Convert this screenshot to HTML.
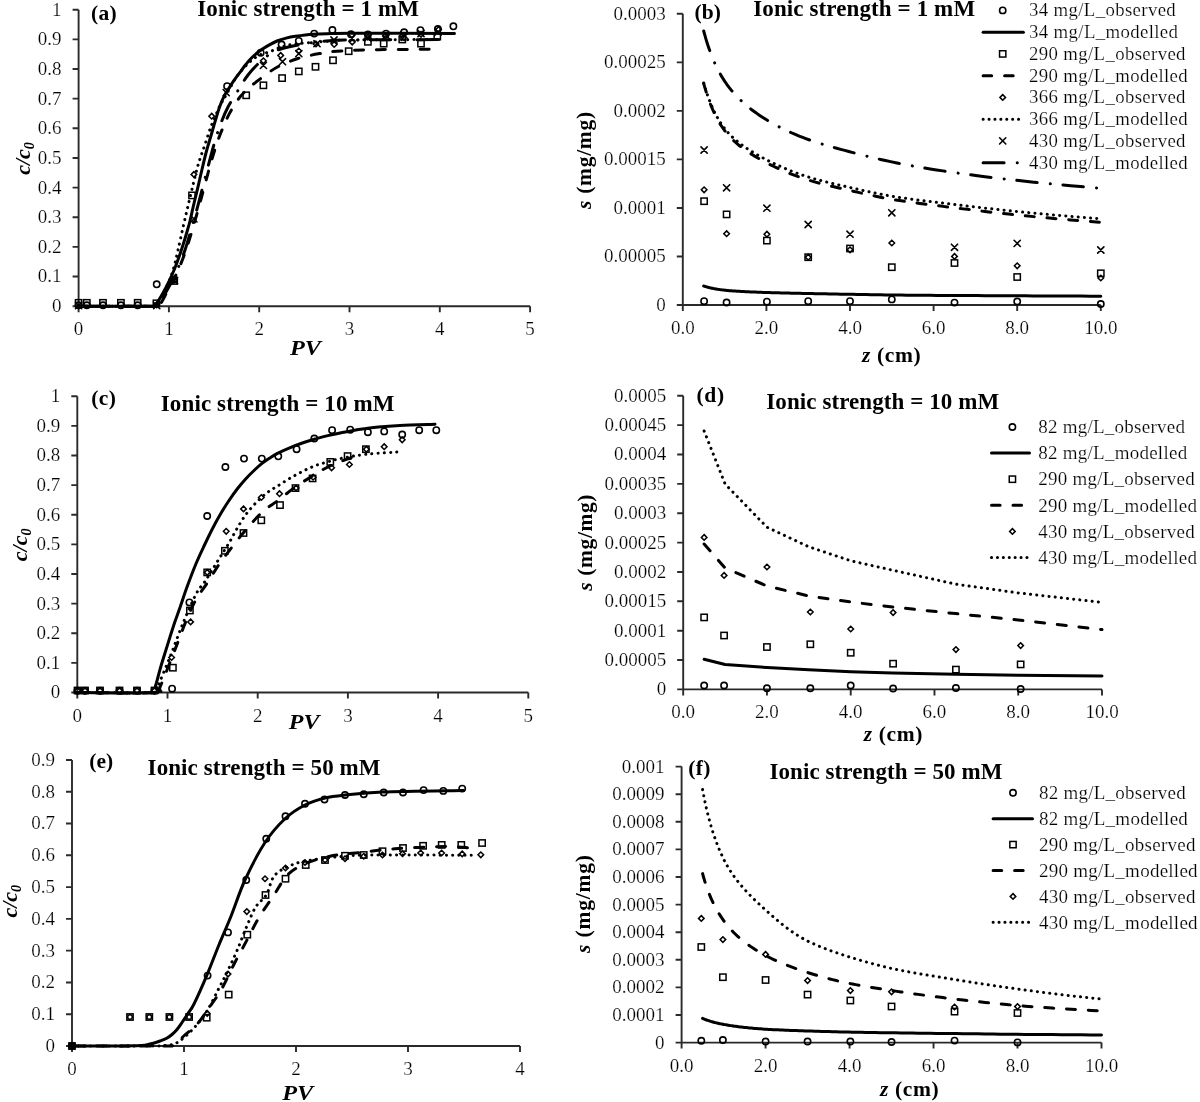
<!DOCTYPE html>
<html><head><meta charset="utf-8"><style>
html,body{margin:0;padding:0;background:#fff;}
svg{display:block;will-change:transform;}
text{font-family:"Liberation Serif", serif;fill:#000;}
text.r{stroke:#fff;stroke-width:0.2px;}
</style></head><body>
<svg width="1200" height="1102" viewBox="0 0 1200 1102">
<rect width="1200" height="1102" fill="#fff"/>
<path d="M78.6 9.7V312.2M72.6 306.2H530.1M72.6 306.2H78.6M72.6 276.55H78.6M72.6 246.9H78.6M72.6 217.25H78.6M72.6 187.6H78.6M72.6 157.95H78.6M72.6 128.3H78.6M72.6 98.65H78.6M72.6 69H78.6M72.6 39.35H78.6M72.6 9.7H78.6M78.6 306.2V312.2M168.9 306.2V312.2M259.2 306.2V312.2M349.5 306.2V312.2M439.8 306.2V312.2M530.1 306.2V312.2" stroke="#2a2a2a" stroke-width="1.9" fill="none"/>
<text x="61.6" y="312.1" font-size="19" class="r" text-anchor="end">0</text>
<text x="61.6" y="282.45" font-size="19" class="r" text-anchor="end">0.1</text>
<text x="61.6" y="252.8" font-size="19" class="r" text-anchor="end">0.2</text>
<text x="61.6" y="223.15" font-size="19" class="r" text-anchor="end">0.3</text>
<text x="61.6" y="193.5" font-size="19" class="r" text-anchor="end">0.4</text>
<text x="61.6" y="163.85" font-size="19" class="r" text-anchor="end">0.5</text>
<text x="61.6" y="134.2" font-size="19" class="r" text-anchor="end">0.6</text>
<text x="61.6" y="104.55" font-size="19" class="r" text-anchor="end">0.7</text>
<text x="61.6" y="74.9" font-size="19" class="r" text-anchor="end">0.8</text>
<text x="61.6" y="45.25" font-size="19" class="r" text-anchor="end">0.9</text>
<text x="61.6" y="15.6" font-size="19" class="r" text-anchor="end">1</text>
<text x="78.6" y="335.2" font-size="19" class="r" text-anchor="middle">0</text>
<text x="168.9" y="335.2" font-size="19" class="r" text-anchor="middle">1</text>
<text x="259.2" y="335.2" font-size="19" class="r" text-anchor="middle">2</text>
<text x="349.5" y="335.2" font-size="19" class="r" text-anchor="middle">3</text>
<text x="439.8" y="335.2" font-size="19" class="r" text-anchor="middle">4</text>
<text x="530.1" y="335.2" font-size="19" class="r" text-anchor="middle">5</text>
<text x="91" y="19.8" font-size="21.5" font-weight="bold" textLength="25.6" lengthAdjust="spacing">(a)</text>
<text x="197.3" y="16.2" font-size="23" font-weight="bold" textLength="221.6" lengthAdjust="spacing">Ionic strength = 1 mM</text>
<text x="290" y="355.2" font-size="22" font-weight="bold" font-style="italic" textLength="31" lengthAdjust="spacingAndGlyphs">PV</text>
<text x="30.3" y="174.8" font-size="22" font-weight="bold" font-style="italic" transform="rotate(-90 30.3 174.8)"><tspan>c/c</tspan><tspan font-size="14.1" dy="4">0</tspan></text>
<path d="M78.6 306.2C90.83 306.2 138.77 306.32 152 306.2C165.23 306.08 156.5 306.03 158 305.5C159.5 304.97 159.5 305.25 161 303C162.5 300.75 165 295.67 167 292C169 288.33 170.92 285.17 173 281C175.08 276.83 177.33 272.17 179.5 267C181.67 261.83 183.92 256 186 250C188.08 244 190 237.67 192 231C194 224.33 196 217.17 198 210C200 202.83 202 195.33 204 188C206 180.67 208 173 210 166C212 159 214.05 151.88 216 146C217.95 140.12 219.38 136.27 221.7 130.7C224.02 125.13 226.85 118.22 229.9 112.6C232.95 106.98 236.82 101.1 240 97C243.18 92.9 245.85 90.85 249 88C252.15 85.15 254.23 83.37 258.9 79.9C263.57 76.43 270.5 70.77 277 67.2C283.5 63.63 290.78 60.77 297.9 58.5C305.02 56.23 312.43 54.87 319.7 53.6C326.97 52.33 330.87 51.57 341.5 50.9C352.13 50.23 368.08 49.87 383.5 49.6C398.92 49.33 425.58 49.35 434 49.3" stroke="#000" stroke-width="3.0" fill="none" stroke-linecap="round" stroke-linejoin="round" stroke-dasharray="9 12.8"/>
<path d="M78.6 306.2C90.67 306.2 137.93 306.32 151 306.2C164.07 306.08 155.5 306.03 157 305.5C158.5 304.97 158.5 305.25 160 303C161.5 300.75 164 295.67 166 292C168 288.33 169.92 285.17 172 281C174.08 276.83 176.33 272.17 178.5 267C180.67 261.83 182.92 256.17 185 250C187.08 243.83 189 236.83 191 230C193 223.17 195 216.33 197 209C199 201.67 201 193.67 203 186C205 178.33 207 170.5 209 163C211 155.5 213 147.67 215 141C217 134.33 218.83 128.67 221 123C223.17 117.33 225.02 112.67 228 107C230.98 101.33 235.57 94.33 238.9 89C242.23 83.67 244.67 79.33 248 75C251.33 70.67 255.23 66.5 258.9 63C262.57 59.5 266.37 56.33 270 54C273.63 51.67 275.6 50.58 280.7 49C285.8 47.42 293.05 45.83 300.6 44.5C308.15 43.17 317.83 41.75 326 41C334.17 40.25 330.6 40.23 349.6 40C368.6 39.77 424.93 39.67 440 39.6" stroke="#000" stroke-width="3.0" fill="none" stroke-linecap="round" stroke-linejoin="round" stroke-dasharray="20.5 13.2 0.1 12.6"/>
<path d="M78.6 306.2C90.67 306.2 138.27 306.32 151 306.2C163.73 306.08 153.67 306.37 155 305.5C156.33 304.63 157.5 303.25 159 301C160.5 298.75 162.17 295.67 164 292C165.83 288.33 168.3 283.33 170 279C171.7 274.67 172.87 270.83 174.2 266C175.53 261.17 176.52 256.5 178 250C179.48 243.5 181.4 234.5 183.1 227C184.8 219.5 186.47 212.33 188.2 205C189.93 197.67 191.95 189.33 193.5 183C195.05 176.67 196.27 171.47 197.5 167C198.73 162.53 199.65 159.97 200.9 156.2C202.15 152.43 203.33 149.32 205 144.4C206.67 139.48 209.38 130.78 210.9 126.7C212.42 122.62 212.9 122.77 214.1 119.9C215.3 117.03 216.9 112.3 218.1 109.5C219.3 106.7 220.32 104.92 221.3 103.1C222.28 101.28 222.55 101.12 224 98.6C225.45 96.08 227.82 91.77 230 88C232.18 84.23 234.1 80.07 237.1 76C240.1 71.93 244.37 67.03 248 63.6C251.63 60.17 255.27 57.37 258.9 55.4C262.53 53.43 266.17 53.17 269.8 51.8C273.43 50.43 277.07 48.42 280.7 47.2C284.33 45.98 287.07 45.25 291.6 44.5C296.13 43.75 301.25 43.3 307.9 42.7C314.55 42.1 324.55 41.35 331.5 40.9C338.45 40.45 331.52 40.23 349.6 40C367.68 39.77 424.93 39.58 440 39.5" stroke="#000" stroke-width="3.0" fill="none" stroke-linecap="round" stroke-linejoin="round" stroke-dasharray="0.1 6.1"/>
<path d="M78.6 306.2C90.5 306.2 137.52 306.23 150 306.2C162.48 306.17 152.42 306.45 153.5 306C154.58 305.55 154.92 305.67 156.5 303.5C158.08 301.33 160.92 296.67 163 293C165.08 289.33 167.08 285.5 169 281.5C170.92 277.5 172.83 273.08 174.5 269C176.17 264.92 177.58 261 179 257C180.42 253 181.75 248.92 183 245C184.25 241.08 185.33 237.5 186.5 233.5C187.67 229.5 188.83 225.67 190 221C191.17 216.33 192.22 210.98 193.5 205.5C194.78 200.02 196.25 194.27 197.7 188.1C199.15 181.93 200.73 174.68 202.2 168.5C203.67 162.32 205.1 156.25 206.5 151C207.9 145.75 209.18 141.88 210.6 137C212.02 132.12 213.52 126.67 215 121.7C216.48 116.73 218 111.43 219.5 107.2C221 102.97 222.33 99.63 224 96.3C225.67 92.97 227.68 90.07 229.5 87.2C231.32 84.33 233.08 81.67 234.9 79.1C236.72 76.53 238.58 74.23 240.4 71.8C242.22 69.37 244.03 66.72 245.8 64.5C247.57 62.28 248.82 60.67 251 58.5C253.18 56.33 256.07 53.65 258.9 51.5C261.73 49.35 264.98 47.35 268 45.6C271.02 43.85 273.98 42.25 277 41C280.02 39.75 283.07 38.88 286.1 38.1C289.13 37.32 290.67 36.95 295.2 36.3C299.73 35.65 307.25 34.65 313.3 34.2C319.35 33.75 325.45 33.75 331.5 33.6C337.55 33.45 329.12 33.33 349.6 33.3C370.08 33.27 436.93 33.38 454.4 33.4" stroke="#000" stroke-width="3.0" fill="none" stroke-linecap="round" stroke-linejoin="round" />
<rect x="75.45" y="299.65" width="6.3" height="6.3" fill="none" stroke="#000" stroke-width="1.5"/>
<rect x="83.65" y="299.65" width="6.3" height="6.3" fill="none" stroke="#000" stroke-width="1.5"/>
<rect x="99.85" y="299.65" width="6.3" height="6.3" fill="none" stroke="#000" stroke-width="1.5"/>
<rect x="117.75" y="299.65" width="6.3" height="6.3" fill="none" stroke="#000" stroke-width="1.5"/>
<rect x="134.55" y="299.65" width="6.3" height="6.3" fill="none" stroke="#000" stroke-width="1.5"/>
<rect x="153.25" y="300.15" width="6.3" height="6.3" fill="none" stroke="#000" stroke-width="1.5"/>
<rect x="171.05" y="277.85" width="6.3" height="6.3" fill="none" stroke="#000" stroke-width="1.5"/>
<rect x="188.85" y="192.25" width="6.3" height="6.3" fill="none" stroke="#000" stroke-width="1.5"/>
<rect x="243.05" y="92.15" width="6.3" height="6.3" fill="none" stroke="#000" stroke-width="1.5"/>
<rect x="260.25" y="82.15" width="6.3" height="6.3" fill="none" stroke="#000" stroke-width="1.5"/>
<rect x="278.95" y="74.95" width="6.3" height="6.3" fill="none" stroke="#000" stroke-width="1.5"/>
<rect x="295.65" y="68.25" width="6.3" height="6.3" fill="none" stroke="#000" stroke-width="1.5"/>
<rect x="312.35" y="63.65" width="6.3" height="6.3" fill="none" stroke="#000" stroke-width="1.5"/>
<rect x="329.85" y="57.15" width="6.3" height="6.3" fill="none" stroke="#000" stroke-width="1.5"/>
<rect x="345.55" y="48.05" width="6.3" height="6.3" fill="none" stroke="#000" stroke-width="1.5"/>
<rect x="364.75" y="38.65" width="6.3" height="6.3" fill="none" stroke="#000" stroke-width="1.5"/>
<rect x="380.55" y="40.45" width="6.3" height="6.3" fill="none" stroke="#000" stroke-width="1.5"/>
<rect x="399.15" y="36.35" width="6.3" height="6.3" fill="none" stroke="#000" stroke-width="1.5"/>
<rect x="417.85" y="40.45" width="6.3" height="6.3" fill="none" stroke="#000" stroke-width="1.5"/>
<rect x="434.15" y="33.45" width="6.3" height="6.3" fill="none" stroke="#000" stroke-width="1.5"/>
<path d="M156.7 302.2L159.5 305L156.7 307.8L153.9 305Z" fill="none" stroke="#000" stroke-width="1.5"/>
<path d="M174.2 277.2L177 280L174.2 282.8L171.4 280Z" fill="none" stroke="#000" stroke-width="1.5"/>
<path d="M193.9 171.6L196.7 174.4L193.9 177.2L191.1 174.4Z" fill="none" stroke="#000" stroke-width="1.5"/>
<path d="M211.7 113.4L214.5 116.2L211.7 119L208.9 116.2Z" fill="none" stroke="#000" stroke-width="1.5"/>
<path d="M263.4 58L266.2 60.8L263.4 63.6L260.6 60.8Z" fill="none" stroke="#000" stroke-width="1.5"/>
<path d="M280.7 52.6L283.5 55.4L280.7 58.2L277.9 55.4Z" fill="none" stroke="#000" stroke-width="1.5"/>
<path d="M298.8 48.2L301.6 51L298.8 53.8L296 51Z" fill="none" stroke="#000" stroke-width="1.5"/>
<path d="M316 41.2L318.8 44L316 46.8L313.2 44Z" fill="none" stroke="#000" stroke-width="1.5"/>
<path d="M334.2 41.7L337 44.5L334.2 47.3L331.4 44.5Z" fill="none" stroke="#000" stroke-width="1.5"/>
<path d="M352.2 39.3L355 42.1L352.2 44.9L349.4 42.1Z" fill="none" stroke="#000" stroke-width="1.5"/>
<path d="M367.9 34.4L370.7 37.2L367.9 40L365.1 37.2Z" fill="none" stroke="#000" stroke-width="1.5"/>
<path d="M385.4 33.2L388.2 36L385.4 38.8L382.6 36Z" fill="none" stroke="#000" stroke-width="1.5"/>
<path d="M402.3 33.2L405.1 36L402.3 38.8L399.5 36Z" fill="none" stroke="#000" stroke-width="1.5"/>
<path d="M421 31.5L423.8 34.3L421 37.1L418.2 34.3Z" fill="none" stroke="#000" stroke-width="1.5"/>
<path d="M438.5 26.8L441.3 29.6L438.5 32.4L435.7 29.6Z" fill="none" stroke="#000" stroke-width="1.5"/>
<circle cx="78.6" cy="305.3" r="3.15" fill="none" stroke="#000" stroke-width="1.6"/>
<circle cx="86.8" cy="305.3" r="3.15" fill="none" stroke="#000" stroke-width="1.6"/>
<circle cx="103" cy="305.3" r="3.15" fill="none" stroke="#000" stroke-width="1.6"/>
<circle cx="120.9" cy="305.3" r="3.15" fill="none" stroke="#000" stroke-width="1.6"/>
<circle cx="137.7" cy="305.3" r="3.15" fill="none" stroke="#000" stroke-width="1.6"/>
<circle cx="156.7" cy="284.3" r="3.15" fill="none" stroke="#000" stroke-width="1.6"/>
<circle cx="174.2" cy="279.5" r="3.15" fill="none" stroke="#000" stroke-width="1.6"/>
<circle cx="227.1" cy="86.2" r="3.15" fill="none" stroke="#000" stroke-width="1.6"/>
<circle cx="260.7" cy="52.7" r="3.15" fill="none" stroke="#000" stroke-width="1.6"/>
<circle cx="281.6" cy="44.5" r="3.15" fill="none" stroke="#000" stroke-width="1.6"/>
<circle cx="298.8" cy="40.9" r="3.15" fill="none" stroke="#000" stroke-width="1.6"/>
<circle cx="314.2" cy="33.6" r="3.15" fill="none" stroke="#000" stroke-width="1.6"/>
<circle cx="332.4" cy="30" r="3.15" fill="none" stroke="#000" stroke-width="1.6"/>
<circle cx="351" cy="34.3" r="3.15" fill="none" stroke="#000" stroke-width="1.6"/>
<circle cx="367.9" cy="34.5" r="3.15" fill="none" stroke="#000" stroke-width="1.6"/>
<circle cx="386" cy="33.7" r="3.15" fill="none" stroke="#000" stroke-width="1.6"/>
<circle cx="404.1" cy="32.3" r="3.15" fill="none" stroke="#000" stroke-width="1.6"/>
<circle cx="420.4" cy="30.2" r="3.15" fill="none" stroke="#000" stroke-width="1.6"/>
<circle cx="437.9" cy="29" r="3.15" fill="none" stroke="#000" stroke-width="1.6"/>
<circle cx="453.4" cy="26.3" r="3.15" fill="none" stroke="#000" stroke-width="1.6"/>
<path d="M75.5 302.4L81.7 308.6M81.7 302.4L75.5 308.6" stroke="#000" stroke-width="1.6" stroke-linecap="round" fill="none"/>
<path d="M153.6 302.4L159.8 308.6M159.8 302.4L153.6 308.6" stroke="#000" stroke-width="1.6" stroke-linecap="round" fill="none"/>
<path d="M171.4 277.4L177.6 283.6M177.6 277.4L171.4 283.6" stroke="#000" stroke-width="1.6" stroke-linecap="round" fill="none"/>
<path d="M190.8 215.8L197 222M197 215.8L190.8 222" stroke="#000" stroke-width="1.6" stroke-linecap="round" fill="none"/>
<path d="M223.1 89.5L229.3 95.7M229.3 89.5L223.1 95.7" stroke="#000" stroke-width="1.6" stroke-linecap="round" fill="none"/>
<path d="M260.3 62.3L266.5 68.5M266.5 62.3L260.3 68.5" stroke="#000" stroke-width="1.6" stroke-linecap="round" fill="none"/>
<path d="M279.4 58.6L285.6 64.8M285.6 58.6L279.4 64.8" stroke="#000" stroke-width="1.6" stroke-linecap="round" fill="none"/>
<path d="M295.7 50.5L301.9 56.7M301.9 50.5L295.7 56.7" stroke="#000" stroke-width="1.6" stroke-linecap="round" fill="none"/>
<path d="M313.9 40.5L320.1 46.7M320.1 40.5L313.9 46.7" stroke="#000" stroke-width="1.6" stroke-linecap="round" fill="none"/>
<path d="M330.9 36.9L337.1 43.1M337.1 36.9L330.9 43.1" stroke="#000" stroke-width="1.6" stroke-linecap="round" fill="none"/>
<path d="M348.9 34.9L355.1 41.1M355.1 34.9L348.9 41.1" stroke="#000" stroke-width="1.6" stroke-linecap="round" fill="none"/>
<path d="M364.8 34.7L371 40.9M371 34.7L364.8 40.9" stroke="#000" stroke-width="1.6" stroke-linecap="round" fill="none"/>
<path d="M382.9 32.3L389.1 38.5M389.1 32.3L382.9 38.5" stroke="#000" stroke-width="1.6" stroke-linecap="round" fill="none"/>
<path d="M400.9 31.9L407.1 38.1M407.1 31.9L400.9 38.1" stroke="#000" stroke-width="1.6" stroke-linecap="round" fill="none"/>
<path d="M417.9 30.4L424.1 36.6M424.1 30.4L417.9 36.6" stroke="#000" stroke-width="1.6" stroke-linecap="round" fill="none"/>
<path d="M434.9 28.9L441.1 35.1M441.1 28.9L434.9 35.1" stroke="#000" stroke-width="1.6" stroke-linecap="round" fill="none"/>
<path d="M682.8 13.8V311M676.8 305H1100.8M676.8 305H682.8M676.8 256.47H682.8M676.8 207.93H682.8M676.8 159.4H682.8M676.8 110.87H682.8M676.8 62.33H682.8M676.8 13.8H682.8M682.8 305V311M766.4 305V311M850 305V311M933.6 305V311M1017.2 305V311M1100.8 305V311" stroke="#2a2a2a" stroke-width="1.9" fill="none"/>
<text x="665.8" y="310.9" font-size="19" class="r" text-anchor="end">0</text>
<text x="665.8" y="262.37" font-size="19" class="r" text-anchor="end">0.00005</text>
<text x="665.8" y="213.83" font-size="19" class="r" text-anchor="end">0.0001</text>
<text x="665.8" y="165.3" font-size="19" class="r" text-anchor="end">0.00015</text>
<text x="665.8" y="116.77" font-size="19" class="r" text-anchor="end">0.0002</text>
<text x="665.8" y="68.23" font-size="19" class="r" text-anchor="end">0.00025</text>
<text x="665.8" y="19.7" font-size="19" class="r" text-anchor="end">0.0003</text>
<text x="682.8" y="334" font-size="19" class="r" text-anchor="middle">0.0</text>
<text x="766.4" y="334" font-size="19" class="r" text-anchor="middle">2.0</text>
<text x="850" y="334" font-size="19" class="r" text-anchor="middle">4.0</text>
<text x="933.6" y="334" font-size="19" class="r" text-anchor="middle">6.0</text>
<text x="1017.2" y="334" font-size="19" class="r" text-anchor="middle">8.0</text>
<text x="1100.8" y="334" font-size="19" class="r" text-anchor="middle">10.0</text>
<text x="694.6" y="19.2" font-size="21.5" font-weight="bold" textLength="26.4" lengthAdjust="spacing">(b)</text>
<text x="753.3" y="16.3" font-size="23" font-weight="bold" textLength="221.8" lengthAdjust="spacing">Ionic strength = 1 mM</text>
<text x="862" y="362" font-size="21.5" font-weight="bold" textLength="58.7" lengthAdjust="spacing"><tspan font-style="italic">z</tspan> (cm)</text>
<text x="591" y="208.9" font-size="21.5" font-weight="bold" textLength="97" lengthAdjust="spacing" transform="rotate(-90 591 208.9)"><tspan font-style="italic">s</tspan> (mg/mg)</text>
<path d="M703.7 83.5L704.23 85.4L704.77 87.29L705.33 89.17L705.89 91.05L706.48 92.91L707.08 94.76L707.69 96.6L708.32 98.42L708.97 100.23L709.63 102.02L710.3 103.8L711 105.56L711.71 107.3L712.44 109.02L713.19 110.73L713.96 112.41L714.75 114.07L715.56 115.71L716.38 117.33L717.23 118.93L718.1 120.5L719 122.05L719.91 123.58L720.85 125.08L721.81 126.55L722.8 128L723.81 129.43L724.85 130.83L725.91 132.19L727 133.53L728.12 134.85L729.26 136.14L730.44 137.4L731.64 138.64L732.87 139.87L734.14 141.07L735.44 142.26L736.77 143.43L738.13 144.58L739.53 145.73L740.97 146.86L742.44 147.98L743.94 149.09L745.49 150.2L747.07 151.29L748.7 152.38L750.36 153.47L752.07 154.55L753.82 155.63L755.62 156.71L757.46 157.79L759.35 158.87L761.28 159.95L763.27 161.04L765.3 162.12L767.39 163.21L769.52 164.31L771.72 165.41L773.96 166.51L776.27 167.61L778.63 168.7L781.05 169.8L783.54 170.89L786.08 171.97L788.69 173.04L791.37 174.11L794.12 175.16L796.93 176.2L799.81 177.23L802.77 178.24L805.8 179.24L808.91 180.22L812.1 181.18L815.37 182.11L818.72 183.02L822.16 183.92L825.68 184.81L829.29 185.69L833 186.58L836.79 187.47L840.69 188.37L844.68 189.29L848.77 190.22L852.96 191.18L857.27 192.16L861.68 193.17L866.2 194.19L870.83 195.2L875.59 196.21L880.46 197.2L885.46 198.16L890.58 199.09L895.83 199.97L901.22 200.82L906.74 201.65L912.4 202.45L918.2 203.24L924.15 204.02L930.25 204.8L936.51 205.58L942.92 206.37L949.5 207.18L956.24 208.01L963.15 208.87L970.24 209.73L977.51 210.6L984.96 211.48L992.59 212.36L1000.43 213.23L1008.45 214.1L1016.69 214.95L1025.13 215.79L1033.78 216.62L1042.65 217.46L1051.75 218.28L1061.08 219.1L1070.64 219.91L1080.44 220.72L1090.49 221.51L1100.8 222.3" stroke="#000" stroke-width="3.0" fill="none" stroke-linecap="round" stroke-linejoin="round" stroke-dasharray="9 12.8"/>
<path d="M703.7 83L704.23 84.83L704.77 86.66L705.33 88.47L705.89 90.28L706.48 92.08L707.08 93.87L707.69 95.65L708.32 97.41L708.97 99.16L709.63 100.9L710.3 102.62L711 104.32L711.71 106.01L712.44 107.68L713.19 109.33L713.96 110.96L714.75 112.57L715.56 114.16L716.38 115.73L717.23 117.28L718.1 118.81L719 120.31L719.91 121.79L720.85 123.24L721.81 124.68L722.8 126.08L723.81 127.46L724.85 128.82L725.91 130.14L727 131.44L728.12 132.7L729.26 133.95L730.44 135.17L731.64 136.37L732.87 137.55L734.14 138.71L735.44 139.85L736.77 140.98L738.13 142.09L739.53 143.19L740.97 144.28L742.44 145.36L743.94 146.44L745.49 147.5L747.07 148.56L748.7 149.62L750.36 150.67L752.07 151.73L753.82 152.78L755.62 153.83L757.46 154.88L759.35 155.94L761.28 157L763.27 158.06L765.3 159.13L767.39 160.21L769.52 161.29L771.72 162.38L773.96 163.48L776.27 164.57L778.63 165.67L781.05 166.77L783.54 167.86L786.08 168.94L788.69 170.02L791.37 171.09L794.12 172.15L796.93 173.19L799.81 174.23L802.77 175.24L805.8 176.24L808.91 177.22L812.1 178.18L815.37 179.11L818.72 180.02L822.16 180.92L825.68 181.82L829.29 182.7L833 183.59L836.79 184.48L840.69 185.38L844.68 186.29L848.77 187.22L852.96 188.17L857.27 189.15L861.68 190.15L866.2 191.16L870.83 192.16L875.59 193.16L880.46 194.13L885.46 195.08L890.58 195.99L895.83 196.86L901.22 197.69L906.74 198.5L912.4 199.28L918.2 200.05L924.15 200.82L930.25 201.57L936.51 202.34L942.92 203.11L949.5 203.9L956.24 204.71L963.15 205.54L970.24 206.37L977.51 207.22L984.96 208.07L992.59 208.92L1000.43 209.77L1008.45 210.61L1016.69 211.45L1025.13 212.28L1033.78 213.11L1042.65 213.94L1051.75 214.77L1061.08 215.59L1070.64 216.4L1080.44 217.21L1090.49 218.01L1100.8 218.8" stroke="#000" stroke-width="3.0" fill="none" stroke-linecap="round" stroke-linejoin="round" stroke-dasharray="0.1 6.1"/>
<path d="M703.7 31L704.23 32.99L704.77 34.96L705.33 36.93L705.89 38.89L706.48 40.83L707.08 42.76L707.69 44.68L708.32 46.58L708.97 48.48L709.63 50.35L710.3 52.22L711 54.07L711.71 55.9L712.44 57.72L713.19 59.53L713.96 61.32L714.75 63.09L715.56 64.85L716.38 66.59L717.23 68.31L718.1 70.02L719 71.71L719.91 73.38L720.85 75.03L721.81 76.67L722.8 78.29L723.81 79.89L724.85 81.47L725.91 83.03L727 84.58L728.12 86.1L729.26 87.61L730.44 89.1L731.64 90.58L732.87 92.04L734.14 93.49L735.44 94.92L736.77 96.34L738.13 97.75L739.53 99.15L740.97 100.53L742.44 101.91L743.94 103.27L745.49 104.62L747.07 105.97L748.7 107.3L750.36 108.63L752.07 109.95L753.82 111.27L755.62 112.57L757.46 113.87L759.35 115.17L761.28 116.46L763.27 117.74L765.3 119.02L767.39 120.3L769.52 121.57L771.72 122.84L773.96 124.11L776.27 125.36L778.63 126.62L781.05 127.86L783.54 129.1L786.08 130.33L788.69 131.55L791.37 132.75L794.12 133.95L796.93 135.14L799.81 136.31L802.77 137.47L805.8 138.62L808.91 139.76L812.1 140.87L815.37 141.96L818.72 143.03L822.16 144.08L825.68 145.13L829.29 146.18L833 147.22L836.79 148.27L840.69 149.33L844.68 150.39L848.77 151.48L852.96 152.58L857.27 153.71L861.68 154.85L866.2 156L870.83 157.15L875.59 158.3L880.46 159.43L885.46 160.55L890.58 161.65L895.83 162.72L901.22 163.78L906.74 164.82L912.4 165.86L918.2 166.89L924.15 167.9L930.25 168.91L936.51 169.9L942.92 170.89L949.5 171.87L956.24 172.85L963.15 173.81L970.24 174.77L977.51 175.72L984.96 176.65L992.59 177.59L1000.43 178.51L1008.45 179.43L1016.69 180.34L1025.13 181.25L1033.78 182.16L1042.65 183.05L1051.75 183.94L1061.08 184.83L1070.64 185.7L1080.44 186.58L1090.49 187.44L1100.8 188.3" stroke="#000" stroke-width="3.0" fill="none" stroke-linecap="round" stroke-linejoin="round" stroke-dasharray="20.5 13.2 0.1 12.6"/>
<path d="M703.7 286L704.23 286.17L704.77 286.34L705.33 286.51L705.89 286.68L706.48 286.86L707.08 287.03L707.69 287.19L708.32 287.36L708.97 287.53L709.63 287.69L710.3 287.86L711 288.02L711.71 288.18L712.44 288.33L713.19 288.49L713.96 288.64L714.75 288.79L715.56 288.94L716.38 289.08L717.23 289.22L718.1 289.36L719 289.49L719.91 289.63L720.85 289.75L721.81 289.88L722.8 290L723.81 290.11L724.85 290.23L725.91 290.34L727 290.44L728.12 290.54L729.26 290.64L730.44 290.74L731.64 290.84L732.87 290.93L734.14 291.02L735.44 291.11L736.77 291.19L738.13 291.28L739.53 291.36L740.97 291.44L742.44 291.52L743.94 291.59L745.49 291.67L747.07 291.75L748.7 291.82L750.36 291.89L752.07 291.97L753.82 292.04L755.62 292.11L757.46 292.18L759.35 292.25L761.28 292.32L763.27 292.39L765.3 292.46L767.39 292.53L769.52 292.6L771.72 292.67L773.96 292.73L776.27 292.79L778.63 292.85L781.05 292.91L783.54 292.97L786.08 293.03L788.69 293.09L791.37 293.15L794.12 293.2L796.93 293.26L799.81 293.32L802.77 293.39L805.8 293.45L808.91 293.51L812.1 293.58L815.37 293.65L818.72 293.71L822.16 293.78L825.68 293.85L829.29 293.92L833 293.99L836.79 294.06L840.69 294.13L844.68 294.2L848.77 294.28L852.96 294.35L857.27 294.43L861.68 294.52L866.2 294.6L870.83 294.68L875.59 294.77L880.46 294.84L885.46 294.92L890.58 294.99L895.83 295.05L901.22 295.1L906.74 295.16L912.4 295.21L918.2 295.25L924.15 295.3L930.25 295.34L936.51 295.39L942.92 295.43L949.5 295.47L956.24 295.51L963.15 295.55L970.24 295.59L977.51 295.62L984.96 295.65L992.59 295.69L1000.43 295.72L1008.45 295.76L1016.69 295.8L1025.13 295.84L1033.78 295.88L1042.65 295.93L1051.75 295.97L1061.08 296.02L1070.64 296.06L1080.44 296.11L1090.49 296.16L1100.8 296.2" stroke="#000" stroke-width="3.0" fill="none" stroke-linecap="round" stroke-linejoin="round" />
<rect x="700.95" y="198.05" width="6.3" height="6.3" fill="none" stroke="#000" stroke-width="1.5"/>
<rect x="723.45" y="211.25" width="6.3" height="6.3" fill="none" stroke="#000" stroke-width="1.5"/>
<rect x="763.75" y="237.45" width="6.3" height="6.3" fill="none" stroke="#000" stroke-width="1.5"/>
<rect x="805.05" y="254.05" width="6.3" height="6.3" fill="none" stroke="#000" stroke-width="1.5"/>
<rect x="846.85" y="245.35" width="6.3" height="6.3" fill="none" stroke="#000" stroke-width="1.5"/>
<rect x="888.65" y="264.05" width="6.3" height="6.3" fill="none" stroke="#000" stroke-width="1.5"/>
<rect x="951.35" y="259.85" width="6.3" height="6.3" fill="none" stroke="#000" stroke-width="1.5"/>
<rect x="1014.05" y="273.85" width="6.3" height="6.3" fill="none" stroke="#000" stroke-width="1.5"/>
<rect x="1097.65" y="270.15" width="6.3" height="6.3" fill="none" stroke="#000" stroke-width="1.5"/>
<path d="M704.1 187L706.9 189.8L704.1 192.6L701.3 189.8Z" fill="none" stroke="#000" stroke-width="1.5"/>
<path d="M726.6 230.9L729.4 233.7L726.6 236.5L723.8 233.7Z" fill="none" stroke="#000" stroke-width="1.5"/>
<path d="M766.9 231.4L769.7 234.2L766.9 237L764.1 234.2Z" fill="none" stroke="#000" stroke-width="1.5"/>
<path d="M808.2 254.4L811 257.2L808.2 260L805.4 257.2Z" fill="none" stroke="#000" stroke-width="1.5"/>
<path d="M850 247L852.8 249.8L850 252.6L847.2 249.8Z" fill="none" stroke="#000" stroke-width="1.5"/>
<path d="M891.8 240.2L894.6 243L891.8 245.8L889 243Z" fill="none" stroke="#000" stroke-width="1.5"/>
<path d="M954.5 253.6L957.3 256.4L954.5 259.2L951.7 256.4Z" fill="none" stroke="#000" stroke-width="1.5"/>
<path d="M1017.2 263L1020 265.8L1017.2 268.6L1014.4 265.8Z" fill="none" stroke="#000" stroke-width="1.5"/>
<path d="M1100.8 275.2L1103.6 278L1100.8 280.8L1098 278Z" fill="none" stroke="#000" stroke-width="1.5"/>
<circle cx="704.1" cy="301.2" r="3.15" fill="none" stroke="#000" stroke-width="1.6"/>
<circle cx="726.6" cy="302.5" r="3.15" fill="none" stroke="#000" stroke-width="1.6"/>
<circle cx="766.9" cy="301.7" r="3.15" fill="none" stroke="#000" stroke-width="1.6"/>
<circle cx="808.2" cy="301.2" r="3.15" fill="none" stroke="#000" stroke-width="1.6"/>
<circle cx="850" cy="301.2" r="3.15" fill="none" stroke="#000" stroke-width="1.6"/>
<circle cx="891.8" cy="299.4" r="3.15" fill="none" stroke="#000" stroke-width="1.6"/>
<circle cx="954.5" cy="302.6" r="3.15" fill="none" stroke="#000" stroke-width="1.6"/>
<circle cx="1017.2" cy="301.5" r="3.15" fill="none" stroke="#000" stroke-width="1.6"/>
<circle cx="1100.8" cy="304" r="3.15" fill="none" stroke="#000" stroke-width="1.6"/>
<path d="M701 146.9L707.2 153.1M707.2 146.9L701 153.1" stroke="#000" stroke-width="1.6" stroke-linecap="round" fill="none"/>
<path d="M723.5 184.7L729.7 190.9M729.7 184.7L723.5 190.9" stroke="#000" stroke-width="1.6" stroke-linecap="round" fill="none"/>
<path d="M763.8 205.1L770 211.3M770 205.1L763.8 211.3" stroke="#000" stroke-width="1.6" stroke-linecap="round" fill="none"/>
<path d="M805.1 221.4L811.3 227.6M811.3 221.4L805.1 227.6" stroke="#000" stroke-width="1.6" stroke-linecap="round" fill="none"/>
<path d="M846.9 231.1L853.1 237.3M853.1 231.1L846.9 237.3" stroke="#000" stroke-width="1.6" stroke-linecap="round" fill="none"/>
<path d="M888.7 209.7L894.9 215.9M894.9 209.7L888.7 215.9" stroke="#000" stroke-width="1.6" stroke-linecap="round" fill="none"/>
<path d="M951.4 244.2L957.6 250.4M957.6 244.2L951.4 250.4" stroke="#000" stroke-width="1.6" stroke-linecap="round" fill="none"/>
<path d="M1014.1 240.3L1020.3 246.5M1020.3 240.3L1014.1 246.5" stroke="#000" stroke-width="1.6" stroke-linecap="round" fill="none"/>
<path d="M1097.7 246.9L1103.9 253.1M1103.9 246.9L1097.7 253.1" stroke="#000" stroke-width="1.6" stroke-linecap="round" fill="none"/>
<circle cx="1002.7" cy="10.4" r="3.15" fill="none" stroke="#000" stroke-width="1.6"/>
<text x="1029" y="16.4" font-size="18.8" class="r" textLength="146.76" lengthAdjust="spacing">34 mg/L_observed</text>
<path d="M983.1 32.15H1023.4" stroke="#000" stroke-width="3" stroke-linecap="round" fill="none"/>
<text x="1029" y="38.15" font-size="18.8" class="r" textLength="148.93" lengthAdjust="spacing">34 mg/L_modelled</text>
<rect x="999.55" y="50.75" width="6.3" height="6.3" fill="none" stroke="#000" stroke-width="1.5"/>
<text x="1029" y="59.9" font-size="18.8" class="r" textLength="156.51" lengthAdjust="spacing">290 mg/L_observed</text>
<path d="M983.1 75.65h8.6M1004.6 75.65h8.6" stroke="#000" stroke-width="3" stroke-linecap="round" fill="none"/>
<text x="1029" y="81.65" font-size="18.8" class="r" textLength="158.68" lengthAdjust="spacing">290 mg/L_modelled</text>
<path d="M1002.7 94.6L1005.5 97.4L1002.7 100.2L999.9 97.4Z" fill="none" stroke="#000" stroke-width="1.5"/>
<text x="1029" y="103.4" font-size="18.8" class="r" textLength="156.51" lengthAdjust="spacing">366 mg/L_observed</text>
<path d="M983.1 119.15h0.1M989 119.15h0.1M994.9 119.15h0.1M1000.8 119.15h0.1M1006.7 119.15h0.1M1012.6 119.15h0.1M1018.5 119.15h0.1" stroke="#000" stroke-width="3" stroke-linecap="round" fill="none"/>
<text x="1029" y="125.15" font-size="18.8" class="r" textLength="158.68" lengthAdjust="spacing">366 mg/L_modelled</text>
<path d="M999.6 137.8L1005.8 144M1005.8 137.8L999.6 144" stroke="#000" stroke-width="1.6" stroke-linecap="round" fill="none"/>
<text x="1029" y="146.9" font-size="18.8" class="r" textLength="156.51" lengthAdjust="spacing">430 mg/L_observed</text>
<path d="M983.1 162.65h21M1017.2 162.65h0.1" stroke="#000" stroke-width="3" stroke-linecap="round" fill="none"/>
<text x="1029" y="168.65" font-size="18.8" class="r" textLength="158.68" lengthAdjust="spacing">430 mg/L_modelled</text>
<path d="M77.3 396.3V698.5M71.3 692.5H528.3M71.3 692.5H77.3M71.3 662.88H77.3M71.3 633.26H77.3M71.3 603.64H77.3M71.3 574.02H77.3M71.3 544.4H77.3M71.3 514.78H77.3M71.3 485.16H77.3M71.3 455.54H77.3M71.3 425.92H77.3M71.3 396.3H77.3M77.3 692.5V698.5M167.5 692.5V698.5M257.7 692.5V698.5M347.9 692.5V698.5M438.1 692.5V698.5M528.3 692.5V698.5" stroke="#2a2a2a" stroke-width="1.9" fill="none"/>
<text x="60.3" y="698.4" font-size="19" class="r" text-anchor="end">0</text>
<text x="60.3" y="668.78" font-size="19" class="r" text-anchor="end">0.1</text>
<text x="60.3" y="639.16" font-size="19" class="r" text-anchor="end">0.2</text>
<text x="60.3" y="609.54" font-size="19" class="r" text-anchor="end">0.3</text>
<text x="60.3" y="579.92" font-size="19" class="r" text-anchor="end">0.4</text>
<text x="60.3" y="550.3" font-size="19" class="r" text-anchor="end">0.5</text>
<text x="60.3" y="520.68" font-size="19" class="r" text-anchor="end">0.6</text>
<text x="60.3" y="491.06" font-size="19" class="r" text-anchor="end">0.7</text>
<text x="60.3" y="461.44" font-size="19" class="r" text-anchor="end">0.8</text>
<text x="60.3" y="431.82" font-size="19" class="r" text-anchor="end">0.9</text>
<text x="60.3" y="402.2" font-size="19" class="r" text-anchor="end">1</text>
<text x="77.3" y="721.5" font-size="19" class="r" text-anchor="middle">0</text>
<text x="167.5" y="721.5" font-size="19" class="r" text-anchor="middle">1</text>
<text x="257.7" y="721.5" font-size="19" class="r" text-anchor="middle">2</text>
<text x="347.9" y="721.5" font-size="19" class="r" text-anchor="middle">3</text>
<text x="438.1" y="721.5" font-size="19" class="r" text-anchor="middle">4</text>
<text x="528.3" y="721.5" font-size="19" class="r" text-anchor="middle">5</text>
<text x="91.2" y="405" font-size="21.5" font-weight="bold" textLength="24.6" lengthAdjust="spacing">(c)</text>
<text x="160.8" y="411.4" font-size="23" font-weight="bold" textLength="233.6" lengthAdjust="spacing">Ionic strength = 10 mM</text>
<text x="288.8" y="729.3" font-size="22" font-weight="bold" font-style="italic" textLength="30.7" lengthAdjust="spacingAndGlyphs">PV</text>
<text x="27" y="561.2" font-size="22" font-weight="bold" font-style="italic" transform="rotate(-90 27 561.2)"><tspan>c/c</tspan><tspan font-size="14.1" dy="4">0</tspan></text>
<path d="M77.3 692.5C90.42 692.5 142.18 693.47 156 692.5C169.82 691.53 156.97 694.02 160.2 686.7C163.43 679.38 171.1 659.55 175.4 648.6C179.7 637.65 182.52 629.27 186 621C189.48 612.73 192.67 605.47 196.3 599C199.93 592.53 203.98 588 207.8 582.2C211.62 576.4 214.85 570.47 219.2 564.2C223.55 557.93 229 550.87 233.9 544.6C238.8 538.33 243.7 532.18 248.6 526.6C253.5 521.02 258.4 515.45 263.3 511.1C268.2 506.75 272.75 504.47 278 500.5C283.25 496.53 289.03 491.4 294.8 487.3C300.57 483.2 307.1 479.28 312.6 475.9C318.1 472.52 322.73 469.55 327.8 467C332.87 464.45 337.5 462.72 343 460.6C348.5 458.48 357.83 455.35 360.8 454.3" stroke="#000" stroke-width="3.0" fill="none" stroke-linecap="round" stroke-linejoin="round" stroke-dasharray="9 12.8"/>
<path d="M77.3 692.5C90.08 692.5 140.62 693.47 154 692.5C167.38 691.53 154.88 692.75 157.6 686.7C160.32 680.65 166.07 666.78 170.3 656.2C174.53 645.62 178.67 633.63 183 623.2C187.33 612.77 192.72 600.43 196.3 593.6C199.88 586.77 201.77 586.28 204.5 582.2C207.23 578.12 209.98 573.47 212.7 569.1C215.42 564.73 218.08 560.35 220.8 556C223.52 551.65 226.27 547.63 229 543C231.73 538.37 234.47 532.83 237.2 528.2C239.93 523.57 242.68 519 245.4 515.2C248.12 511.4 250.78 508.4 253.5 505.4C256.22 502.4 258.97 499.65 261.7 497.2C264.43 494.75 267.18 492.6 269.9 490.7C272.62 488.8 274.7 487.85 278 485.8C281.3 483.75 285.63 480.78 289.7 478.4C293.77 476.02 298.17 473.62 302.4 471.5C306.63 469.38 310.87 467.3 315.1 465.7C319.33 464.1 323.57 463.1 327.8 461.9C332.03 460.7 334.13 459.77 340.5 458.5C346.87 457.23 356.05 455.42 366 454.3C375.95 453.18 394.5 452.22 400.2 451.8" stroke="#000" stroke-width="3.0" fill="none" stroke-linecap="round" stroke-linejoin="round" stroke-dasharray="0.1 6.1"/>
<path d="M77.3 692.5C90 692.5 140.47 693.58 153.5 692.5C166.53 691.42 154.75 688.58 155.5 686C156.25 683.42 157.08 680.33 158 677C158.92 673.67 159.83 670 161 666C162.17 662 163.5 657.83 165 653C166.5 648.17 168.33 642.25 170 637C171.67 631.75 173.33 626.42 175 621.5C176.67 616.58 178 613.25 180 607.5C182 601.75 184.28 594.42 187 587C189.72 579.58 193.38 570 196.3 563C199.22 556 201.77 550.8 204.5 545C207.23 539.2 209.98 533.45 212.7 528.2C215.42 522.95 218.08 518.12 220.8 513.5C223.52 508.88 226.27 504.58 229 500.5C231.73 496.42 234.47 492.55 237.2 489C239.93 485.45 242.68 482.2 245.4 479.2C248.12 476.2 250.78 473.58 253.5 471C256.22 468.42 258.97 465.87 261.7 463.7C264.43 461.53 267.18 459.77 269.9 458C272.62 456.23 274.7 454.8 278 453.1C281.3 451.4 285.63 449.48 289.7 447.8C293.77 446.12 298.17 444.47 302.4 443C306.63 441.53 310.87 440.23 315.1 439C319.33 437.77 321.45 437.03 327.8 435.6C334.15 434.17 344.73 431.82 353.2 430.4C361.67 428.98 370.8 427.92 378.6 427.1C386.4 426.28 390.6 425.97 400 425.5C409.4 425.03 429.17 424.5 435 424.3" stroke="#000" stroke-width="3.0" fill="none" stroke-linecap="round" stroke-linejoin="round" />
<rect x="74.35" y="687.35" width="6.3" height="6.3" fill="none" stroke="#000" stroke-width="1.5"/>
<rect x="81.85" y="687.35" width="6.3" height="6.3" fill="none" stroke="#000" stroke-width="1.5"/>
<rect x="96.85" y="687.35" width="6.3" height="6.3" fill="none" stroke="#000" stroke-width="1.5"/>
<rect x="116.35" y="687.35" width="6.3" height="6.3" fill="none" stroke="#000" stroke-width="1.5"/>
<rect x="133.85" y="687.35" width="6.3" height="6.3" fill="none" stroke="#000" stroke-width="1.5"/>
<rect x="151.35" y="687.35" width="6.3" height="6.3" fill="none" stroke="#000" stroke-width="1.5"/>
<rect x="169.75" y="664.55" width="6.3" height="6.3" fill="none" stroke="#000" stroke-width="1.5"/>
<rect x="186.75" y="607.35" width="6.3" height="6.3" fill="none" stroke="#000" stroke-width="1.5"/>
<rect x="204.05" y="569.25" width="6.3" height="6.3" fill="none" stroke="#000" stroke-width="1.5"/>
<rect x="221.75" y="547.65" width="6.3" height="6.3" fill="none" stroke="#000" stroke-width="1.5"/>
<rect x="240.35" y="529.85" width="6.3" height="6.3" fill="none" stroke="#000" stroke-width="1.5"/>
<rect x="258.15" y="517.15" width="6.3" height="6.3" fill="none" stroke="#000" stroke-width="1.5"/>
<rect x="276.85" y="501.95" width="6.3" height="6.3" fill="none" stroke="#000" stroke-width="1.5"/>
<rect x="292.35" y="484.95" width="6.3" height="6.3" fill="none" stroke="#000" stroke-width="1.5"/>
<rect x="309.45" y="475.25" width="6.3" height="6.3" fill="none" stroke="#000" stroke-width="1.5"/>
<rect x="327.15" y="458.75" width="6.3" height="6.3" fill="none" stroke="#000" stroke-width="1.5"/>
<rect x="344.45" y="452.95" width="6.3" height="6.3" fill="none" stroke="#000" stroke-width="1.5"/>
<rect x="362.75" y="446.05" width="6.3" height="6.3" fill="none" stroke="#000" stroke-width="1.5"/>
<path d="M77.5 688L80.3 690.8L77.5 693.6L74.7 690.8Z" fill="none" stroke="#000" stroke-width="1.5"/>
<path d="M85 688L87.8 690.8L85 693.6L82.2 690.8Z" fill="none" stroke="#000" stroke-width="1.5"/>
<path d="M100 688L102.8 690.8L100 693.6L97.2 690.8Z" fill="none" stroke="#000" stroke-width="1.5"/>
<path d="M119.5 688L122.3 690.8L119.5 693.6L116.7 690.8Z" fill="none" stroke="#000" stroke-width="1.5"/>
<path d="M137 688L139.8 690.8L137 693.6L134.2 690.8Z" fill="none" stroke="#000" stroke-width="1.5"/>
<path d="M154.5 688L157.3 690.8L154.5 693.6L151.7 690.8Z" fill="none" stroke="#000" stroke-width="1.5"/>
<path d="M171.6 654.7L174.4 657.5L171.6 660.3L168.8 657.5Z" fill="none" stroke="#000" stroke-width="1.5"/>
<path d="M190.6 619.1L193.4 621.9L190.6 624.7L187.8 621.9Z" fill="none" stroke="#000" stroke-width="1.5"/>
<path d="M207.2 569.6L210 572.4L207.2 575.2L204.4 572.4Z" fill="none" stroke="#000" stroke-width="1.5"/>
<path d="M226.2 528.5L229 531.3L226.2 534.1L223.4 531.3Z" fill="none" stroke="#000" stroke-width="1.5"/>
<path d="M243.5 506.1L246.3 508.9L243.5 511.7L240.7 508.9Z" fill="none" stroke="#000" stroke-width="1.5"/>
<path d="M261.3 494.7L264.1 497.5L261.3 500.3L258.5 497.5Z" fill="none" stroke="#000" stroke-width="1.5"/>
<path d="M279.5 490.9L282.3 493.7L279.5 496.5L276.7 493.7Z" fill="none" stroke="#000" stroke-width="1.5"/>
<path d="M296 485.3L298.8 488.1L296 490.9L293.2 488.1Z" fill="none" stroke="#000" stroke-width="1.5"/>
<path d="M313.1 474.4L315.9 477.2L313.1 480L310.3 477.2Z" fill="none" stroke="#000" stroke-width="1.5"/>
<path d="M331.6 465L334.4 467.8L331.6 470.6L328.8 467.8Z" fill="none" stroke="#000" stroke-width="1.5"/>
<path d="M349.4 461.7L352.2 464.5L349.4 467.3L346.6 464.5Z" fill="none" stroke="#000" stroke-width="1.5"/>
<path d="M366.4 446.4L369.2 449.2L366.4 452L363.6 449.2Z" fill="none" stroke="#000" stroke-width="1.5"/>
<path d="M384.2 443.9L387 446.7L384.2 449.5L381.4 446.7Z" fill="none" stroke="#000" stroke-width="1.5"/>
<path d="M402.2 437L405 439.8L402.2 442.6L399.4 439.8Z" fill="none" stroke="#000" stroke-width="1.5"/>
<circle cx="77.5" cy="690.7" r="3.15" fill="none" stroke="#000" stroke-width="1.6"/>
<circle cx="85" cy="690.7" r="3.15" fill="none" stroke="#000" stroke-width="1.6"/>
<circle cx="100" cy="690.7" r="3.15" fill="none" stroke="#000" stroke-width="1.6"/>
<circle cx="119.5" cy="690.7" r="3.15" fill="none" stroke="#000" stroke-width="1.6"/>
<circle cx="137" cy="690.7" r="3.15" fill="none" stroke="#000" stroke-width="1.6"/>
<circle cx="154.5" cy="690.7" r="3.15" fill="none" stroke="#000" stroke-width="1.6"/>
<circle cx="172.1" cy="688.7" r="3.15" fill="none" stroke="#000" stroke-width="1.6"/>
<circle cx="189.4" cy="602.4" r="3.15" fill="none" stroke="#000" stroke-width="1.6"/>
<circle cx="207.2" cy="516" r="3.15" fill="none" stroke="#000" stroke-width="1.6"/>
<circle cx="225.4" cy="467" r="3.15" fill="none" stroke="#000" stroke-width="1.6"/>
<circle cx="244" cy="458.6" r="3.15" fill="none" stroke="#000" stroke-width="1.6"/>
<circle cx="261.8" cy="458.6" r="3.15" fill="none" stroke="#000" stroke-width="1.6"/>
<circle cx="278.3" cy="456.3" r="3.15" fill="none" stroke="#000" stroke-width="1.6"/>
<circle cx="296.6" cy="449.2" r="3.15" fill="none" stroke="#000" stroke-width="1.6"/>
<circle cx="314.3" cy="438.5" r="3.15" fill="none" stroke="#000" stroke-width="1.6"/>
<circle cx="332.1" cy="430.2" r="3.15" fill="none" stroke="#000" stroke-width="1.6"/>
<circle cx="350.2" cy="429.7" r="3.15" fill="none" stroke="#000" stroke-width="1.6"/>
<circle cx="367.9" cy="432.2" r="3.15" fill="none" stroke="#000" stroke-width="1.6"/>
<circle cx="384.2" cy="431.4" r="3.15" fill="none" stroke="#000" stroke-width="1.6"/>
<circle cx="402.2" cy="434.5" r="3.15" fill="none" stroke="#000" stroke-width="1.6"/>
<circle cx="419.2" cy="430.2" r="3.15" fill="none" stroke="#000" stroke-width="1.6"/>
<circle cx="436.3" cy="430.2" r="3.15" fill="none" stroke="#000" stroke-width="1.6"/>
<path d="M683.2 395.8V695.4M677.2 689.4H1102M677.2 689.4H683.2M677.2 660.04H683.2M677.2 630.68H683.2M677.2 601.32H683.2M677.2 571.96H683.2M677.2 542.6H683.2M677.2 513.24H683.2M677.2 483.88H683.2M677.2 454.52H683.2M677.2 425.16H683.2M677.2 395.8H683.2M683.2 689.4V695.4M766.96 689.4V695.4M850.72 689.4V695.4M934.48 689.4V695.4M1018.24 689.4V695.4M1102 689.4V695.4" stroke="#2a2a2a" stroke-width="1.9" fill="none"/>
<text x="666.2" y="695.3" font-size="19" class="r" text-anchor="end">0</text>
<text x="666.2" y="665.94" font-size="19" class="r" text-anchor="end">0.00005</text>
<text x="666.2" y="636.58" font-size="19" class="r" text-anchor="end">0.0001</text>
<text x="666.2" y="607.22" font-size="19" class="r" text-anchor="end">0.00015</text>
<text x="666.2" y="577.86" font-size="19" class="r" text-anchor="end">0.0002</text>
<text x="666.2" y="548.5" font-size="19" class="r" text-anchor="end">0.00025</text>
<text x="666.2" y="519.14" font-size="19" class="r" text-anchor="end">0.0003</text>
<text x="666.2" y="489.78" font-size="19" class="r" text-anchor="end">0.00035</text>
<text x="666.2" y="460.42" font-size="19" class="r" text-anchor="end">0.0004</text>
<text x="666.2" y="431.06" font-size="19" class="r" text-anchor="end">0.00045</text>
<text x="666.2" y="401.7" font-size="19" class="r" text-anchor="end">0.0005</text>
<text x="683.2" y="718.4" font-size="19" class="r" text-anchor="middle">0.0</text>
<text x="766.96" y="718.4" font-size="19" class="r" text-anchor="middle">2.0</text>
<text x="850.72" y="718.4" font-size="19" class="r" text-anchor="middle">4.0</text>
<text x="934.48" y="718.4" font-size="19" class="r" text-anchor="middle">6.0</text>
<text x="1018.24" y="718.4" font-size="19" class="r" text-anchor="middle">8.0</text>
<text x="1102" y="718.4" font-size="19" class="r" text-anchor="middle">10.0</text>
<text x="696.6" y="402.2" font-size="21.5" font-weight="bold" textLength="27.5" lengthAdjust="spacing">(d)</text>
<text x="766.3" y="409.3" font-size="23" font-weight="bold" textLength="232.9" lengthAdjust="spacing">Ionic strength = 10 mM</text>
<text x="863.7" y="741" font-size="21.5" font-weight="bold" textLength="58.7" lengthAdjust="spacing"><tspan font-style="italic">z</tspan> (cm)</text>
<text x="592" y="590.7" font-size="21.5" font-weight="bold" textLength="96.2" lengthAdjust="spacing" transform="rotate(-90 592 590.7)"><tspan font-style="italic">s</tspan> (mg/mg)</text>
<path d="M704.14 544L725.08 568L766.96 586L808.84 596L850.72 602L892.6 607L955.42 613.6L1018.24 620L1102 629.6" stroke="#000" stroke-width="3.0" fill="none" stroke-linecap="round" stroke-linejoin="round" stroke-dasharray="9 12.8"/>
<path d="M704.14 431L725.08 484L766.96 527.2L808.84 546.8L850.72 560.8L892.6 570.2L955.42 584.1L1018.24 592.9L1102 602.4" stroke="#000" stroke-width="3.0" fill="none" stroke-linecap="round" stroke-linejoin="round" stroke-dasharray="0.1 6.1"/>
<path d="M704.14 659.25L725.08 664.5L766.96 667.5L808.84 669.8L850.72 671.7L892.6 673L955.42 674.2L1018.24 675.2L1102 676" stroke="#000" stroke-width="3.0" fill="none" stroke-linecap="round" stroke-linejoin="round" />
<rect x="700.99" y="614.25" width="6.3" height="6.3" fill="none" stroke="#000" stroke-width="1.5"/>
<rect x="720.93" y="632.35" width="6.3" height="6.3" fill="none" stroke="#000" stroke-width="1.5"/>
<rect x="763.81" y="643.85" width="6.3" height="6.3" fill="none" stroke="#000" stroke-width="1.5"/>
<rect x="807.19" y="641.1" width="6.3" height="6.3" fill="none" stroke="#000" stroke-width="1.5"/>
<rect x="847.57" y="649.6" width="6.3" height="6.3" fill="none" stroke="#000" stroke-width="1.5"/>
<rect x="889.95" y="660.55" width="6.3" height="6.3" fill="none" stroke="#000" stroke-width="1.5"/>
<rect x="952.77" y="666.45" width="6.3" height="6.3" fill="none" stroke="#000" stroke-width="1.5"/>
<rect x="1017.49" y="661.25" width="6.3" height="6.3" fill="none" stroke="#000" stroke-width="1.5"/>
<path d="M704.14 534.6L706.94 537.4L704.14 540.2L701.34 537.4Z" fill="none" stroke="#000" stroke-width="1.5"/>
<path d="M724.08 572.6L726.88 575.4L724.08 578.2L721.28 575.4Z" fill="none" stroke="#000" stroke-width="1.5"/>
<path d="M766.96 564.2L769.76 567L766.96 569.8L764.16 567Z" fill="none" stroke="#000" stroke-width="1.5"/>
<path d="M810.34 609.2L813.14 612L810.34 614.8L807.54 612Z" fill="none" stroke="#000" stroke-width="1.5"/>
<path d="M850.72 626.2L853.52 629L850.72 631.8L847.92 629Z" fill="none" stroke="#000" stroke-width="1.5"/>
<path d="M893.1 609.8L895.9 612.6L893.1 615.4L890.3 612.6Z" fill="none" stroke="#000" stroke-width="1.5"/>
<path d="M955.92 646.8L958.72 649.6L955.92 652.4L953.12 649.6Z" fill="none" stroke="#000" stroke-width="1.5"/>
<path d="M1020.64 642.8L1023.44 645.6L1020.64 648.4L1017.84 645.6Z" fill="none" stroke="#000" stroke-width="1.5"/>
<circle cx="704.14" cy="685.5" r="3.15" fill="none" stroke="#000" stroke-width="1.6"/>
<circle cx="724.08" cy="685.5" r="3.15" fill="none" stroke="#000" stroke-width="1.6"/>
<circle cx="766.96" cy="688.25" r="3.15" fill="none" stroke="#000" stroke-width="1.6"/>
<circle cx="810.34" cy="688.25" r="3.15" fill="none" stroke="#000" stroke-width="1.6"/>
<circle cx="850.72" cy="685.5" r="3.15" fill="none" stroke="#000" stroke-width="1.6"/>
<circle cx="893.1" cy="688.5" r="3.15" fill="none" stroke="#000" stroke-width="1.6"/>
<circle cx="955.92" cy="688" r="3.15" fill="none" stroke="#000" stroke-width="1.6"/>
<circle cx="1020.64" cy="689" r="3.15" fill="none" stroke="#000" stroke-width="1.6"/>
<circle cx="1012.4" cy="427" r="3.15" fill="none" stroke="#000" stroke-width="1.6"/>
<text x="1038.2" y="433.2" font-size="19" class="r" textLength="146.76" lengthAdjust="spacing">82 mg/L_observed</text>
<path d="M991.5 453.1H1029.5" stroke="#000" stroke-width="3" stroke-linecap="round" fill="none"/>
<text x="1038.2" y="459.3" font-size="19" class="r" textLength="148.93" lengthAdjust="spacing">82 mg/L_modelled</text>
<rect x="1009.25" y="476.05" width="6.3" height="6.3" fill="none" stroke="#000" stroke-width="1.5"/>
<text x="1038.2" y="485.4" font-size="19" class="r" textLength="156.51" lengthAdjust="spacing">290 mg/L_observed</text>
<path d="M991.5 505.3h8.6M1013 505.3h8.6" stroke="#000" stroke-width="3" stroke-linecap="round" fill="none"/>
<text x="1038.2" y="511.5" font-size="19" class="r" textLength="158.68" lengthAdjust="spacing">290 mg/L_modelled</text>
<path d="M1012.4 528.6L1015.2 531.4L1012.4 534.2L1009.6 531.4Z" fill="none" stroke="#000" stroke-width="1.5"/>
<text x="1038.2" y="537.6" font-size="19" class="r" textLength="156.51" lengthAdjust="spacing">430 mg/L_observed</text>
<path d="M991.5 557.5h0.1M997.4 557.5h0.1M1003.3 557.5h0.1M1009.2 557.5h0.1M1015.1 557.5h0.1M1021 557.5h0.1M1026.9 557.5h0.1" stroke="#000" stroke-width="3" stroke-linecap="round" fill="none"/>
<text x="1038.2" y="563.7" font-size="19" class="r" textLength="158.68" lengthAdjust="spacing">430 mg/L_modelled</text>
<path d="M72 759.98V1052M66 1046H520M66 1046H72M66 1014.22H72M66 982.44H72M66 950.66H72M66 918.88H72M66 887.1H72M66 855.32H72M66 823.54H72M66 791.76H72M66 759.98H72M72 1046V1052M184 1046V1052M296 1046V1052M408 1046V1052M520 1046V1052" stroke="#2a2a2a" stroke-width="1.9" fill="none"/>
<text x="55" y="1051.9" font-size="19" class="r" text-anchor="end">0</text>
<text x="55" y="1020.12" font-size="19" class="r" text-anchor="end">0.1</text>
<text x="55" y="988.34" font-size="19" class="r" text-anchor="end">0.2</text>
<text x="55" y="956.56" font-size="19" class="r" text-anchor="end">0.3</text>
<text x="55" y="924.78" font-size="19" class="r" text-anchor="end">0.4</text>
<text x="55" y="893" font-size="19" class="r" text-anchor="end">0.5</text>
<text x="55" y="861.22" font-size="19" class="r" text-anchor="end">0.6</text>
<text x="55" y="829.44" font-size="19" class="r" text-anchor="end">0.7</text>
<text x="55" y="797.66" font-size="19" class="r" text-anchor="end">0.8</text>
<text x="55" y="765.88" font-size="19" class="r" text-anchor="end">0.9</text>
<text x="72" y="1075" font-size="19" class="r" text-anchor="middle">0</text>
<text x="184" y="1075" font-size="19" class="r" text-anchor="middle">1</text>
<text x="296" y="1075" font-size="19" class="r" text-anchor="middle">2</text>
<text x="408" y="1075" font-size="19" class="r" text-anchor="middle">3</text>
<text x="520" y="1075" font-size="19" class="r" text-anchor="middle">4</text>
<text x="89.2" y="767.5" font-size="21.5" font-weight="bold" textLength="24" lengthAdjust="spacing">(e)</text>
<text x="147.6" y="774.9" font-size="23" font-weight="bold" textLength="232.9" lengthAdjust="spacing">Ionic strength = 50 mM</text>
<text x="282.2" y="1099.5" font-size="22" font-weight="bold" font-style="italic" textLength="31" lengthAdjust="spacingAndGlyphs">PV</text>
<text x="17" y="917.6" font-size="22" font-weight="bold" font-style="italic" transform="rotate(-90 17 917.6)"><tspan>c/c</tspan><tspan font-size="14.1" dy="4">0</tspan></text>
<path d="M72 1046C86.67 1046 143 1046.17 160 1046C177 1045.83 169.87 1046.83 174 1045C178.13 1043.17 180.95 1038.47 184.8 1035C188.65 1031.53 192.98 1028.83 197.1 1024.2C201.22 1019.57 205.38 1013.12 209.5 1007.2C213.62 1001.28 217.7 995.9 221.8 988.7C225.9 981.5 229.98 971.97 234.1 964C238.22 956.03 242.38 948.6 246.5 940.9C250.62 933.2 254.18 925.52 258.8 917.8C263.42 910.08 269.42 901.73 274.2 894.6C278.98 887.47 282.37 880.14 287.5 875C292.63 869.86 297.92 866.88 305 863.75C312.08 860.62 320.83 858.12 330 856.25C339.17 854.38 349.17 853.75 360 852.5C370.83 851.25 380.83 849.75 395 848.75C409.17 847.75 432.6 846.64 445 846.5C457.4 846.36 465.33 847.67 469.4 847.9" stroke="#000" stroke-width="3.0" fill="none" stroke-linecap="round" stroke-linejoin="round" stroke-dasharray="9 12.8" stroke-dashoffset="-4.5"/>
<path d="M72 1046C85 1046 134.5 1046.08 150 1046C165.5 1045.92 160.5 1046.05 165 1045.5C169.5 1044.95 172.5 1045.28 177 1042.7C181.5 1040.12 187.1 1035.13 192 1030C196.9 1024.87 201.95 1018.78 206.4 1011.9C210.85 1005.02 215.1 995.65 218.7 988.7C222.3 981.75 224.92 976.62 228 970.2C231.08 963.78 234.12 957.4 237.2 950.2C240.28 943 243.42 934.2 246.5 927C249.58 919.8 252.37 912.4 255.7 907C259.03 901.6 263.28 899.93 266.5 894.6C269.72 889.27 270.25 880.14 275 875C279.75 869.86 287.5 866.46 295 863.75C302.5 861.04 311.67 860 320 858.75C328.33 857.5 336.67 856.88 345 856.25C353.33 855.62 348 855.16 370 855C392 854.84 459.17 855.25 477 855.3" stroke="#000" stroke-width="3.0" fill="none" stroke-linecap="round" stroke-linejoin="round" stroke-dasharray="0.1 6.1"/>
<path d="M72 1046C80 1046 109.5 1046.03 120 1046C130.5 1045.97 130.83 1045.93 135 1045.8C139.17 1045.67 141.95 1045.63 145 1045.2C148.05 1044.77 150.8 1043.9 153.3 1043.2C155.8 1042.5 157.77 1041.83 160 1041C162.23 1040.17 164.7 1039.28 166.7 1038.2C168.7 1037.12 170.28 1035.95 172 1034.5C173.72 1033.05 175.33 1031.5 177 1029.5C178.67 1027.5 180.17 1025.17 182 1022.5C183.83 1019.83 186 1016.58 188 1013.5C190 1010.42 190.93 1010.18 194 1004C197.07 997.82 202.28 986.15 206.4 976.4C210.52 966.65 214.6 955.53 218.7 945.5C222.8 935.47 226.62 927.12 231 916.2C235.38 905.28 239.33 892.28 245 880C250.67 867.72 258.33 852.71 265 842.5C271.67 832.29 278.33 825 285 818.75C291.67 812.5 298.33 808.46 305 805C311.67 801.54 318.33 799.67 325 798C331.67 796.33 335.42 796 345 795C354.58 794 362.75 792.77 382.5 792C402.25 791.23 450 790.67 463.5 790.4" stroke="#000" stroke-width="3.0" fill="none" stroke-linecap="round" stroke-linejoin="round" />
<circle cx="130" cy="1017" r="2.3" fill="none" stroke="#000" stroke-width="1.5"/>
<circle cx="149.3" cy="1017" r="2.3" fill="none" stroke="#000" stroke-width="1.5"/>
<circle cx="169.4" cy="1017" r="2.3" fill="none" stroke="#000" stroke-width="1.5"/>
<circle cx="189.1" cy="1017" r="2.3" fill="none" stroke="#000" stroke-width="1.5"/>
<rect x="68.85" y="1042.85" width="6.3" height="6.3" fill="none" stroke="#000" stroke-width="1.5"/>
<rect x="126.85" y="1013.85" width="6.3" height="6.3" fill="none" stroke="#000" stroke-width="1.5"/>
<rect x="146.15" y="1013.85" width="6.3" height="6.3" fill="none" stroke="#000" stroke-width="1.5"/>
<rect x="166.25" y="1013.85" width="6.3" height="6.3" fill="none" stroke="#000" stroke-width="1.5"/>
<rect x="185.95" y="1013.85" width="6.3" height="6.3" fill="none" stroke="#000" stroke-width="1.5"/>
<rect x="203.55" y="1014.55" width="6.3" height="6.3" fill="none" stroke="#000" stroke-width="1.5"/>
<rect x="225.55" y="991.45" width="6.3" height="6.3" fill="none" stroke="#000" stroke-width="1.5"/>
<rect x="244.15" y="931.55" width="6.3" height="6.3" fill="none" stroke="#000" stroke-width="1.5"/>
<rect x="262.35" y="891.85" width="6.3" height="6.3" fill="none" stroke="#000" stroke-width="1.5"/>
<rect x="282.35" y="875.6" width="6.3" height="6.3" fill="none" stroke="#000" stroke-width="1.5"/>
<rect x="302.6" y="861.85" width="6.3" height="6.3" fill="none" stroke="#000" stroke-width="1.5"/>
<rect x="321.85" y="856.85" width="6.3" height="6.3" fill="none" stroke="#000" stroke-width="1.5"/>
<rect x="341.85" y="852.6" width="6.3" height="6.3" fill="none" stroke="#000" stroke-width="1.5"/>
<rect x="360.6" y="851.85" width="6.3" height="6.3" fill="none" stroke="#000" stroke-width="1.5"/>
<rect x="379.35" y="848.1" width="6.3" height="6.3" fill="none" stroke="#000" stroke-width="1.5"/>
<rect x="399.85" y="844.85" width="6.3" height="6.3" fill="none" stroke="#000" stroke-width="1.5"/>
<rect x="419.95" y="842.65" width="6.3" height="6.3" fill="none" stroke="#000" stroke-width="1.5"/>
<rect x="438.55" y="841.75" width="6.3" height="6.3" fill="none" stroke="#000" stroke-width="1.5"/>
<rect x="458.15" y="841.75" width="6.3" height="6.3" fill="none" stroke="#000" stroke-width="1.5"/>
<rect x="478.95" y="839.85" width="6.3" height="6.3" fill="none" stroke="#000" stroke-width="1.5"/>
<path d="M72 1043.2L74.8 1046L72 1048.8L69.2 1046Z" fill="none" stroke="#000" stroke-width="1.5"/>
<path d="M207.2 1010.6L210 1013.4L207.2 1016.2L204.4 1013.4Z" fill="none" stroke="#000" stroke-width="1.5"/>
<path d="M228 971.3L230.8 974.1L228 976.9L225.2 974.1Z" fill="none" stroke="#000" stroke-width="1.5"/>
<path d="M246.8 908.8L249.6 911.6L246.8 914.4L244 911.6Z" fill="none" stroke="#000" stroke-width="1.5"/>
<path d="M265 875.95L267.8 878.75L265 881.55L262.2 878.75Z" fill="none" stroke="#000" stroke-width="1.5"/>
<path d="M285.5 865.2L288.3 868L285.5 870.8L282.7 868Z" fill="none" stroke="#000" stroke-width="1.5"/>
<path d="M305 859.7L307.8 862.5L305 865.3L302.2 862.5Z" fill="none" stroke="#000" stroke-width="1.5"/>
<path d="M325 857.2L327.8 860L325 862.8L322.2 860Z" fill="none" stroke="#000" stroke-width="1.5"/>
<path d="M345 855.95L347.8 858.75L345 861.55L342.2 858.75Z" fill="none" stroke="#000" stroke-width="1.5"/>
<path d="M363.75 853.45L366.55 856.25L363.75 859.05L360.95 856.25Z" fill="none" stroke="#000" stroke-width="1.5"/>
<path d="M382.5 852.2L385.3 855L382.5 857.8L379.7 855Z" fill="none" stroke="#000" stroke-width="1.5"/>
<path d="M402.5 850.95L405.3 853.75L402.5 856.55L399.7 853.75Z" fill="none" stroke="#000" stroke-width="1.5"/>
<path d="M420.7 850.2L423.5 853L420.7 855.8L417.9 853Z" fill="none" stroke="#000" stroke-width="1.5"/>
<path d="M441.6 850.2L444.4 853L441.6 855.8L438.8 853Z" fill="none" stroke="#000" stroke-width="1.5"/>
<path d="M462.2 851.1L465 853.9L462.2 856.7L459.4 853.9Z" fill="none" stroke="#000" stroke-width="1.5"/>
<path d="M480.8 852L483.6 854.8L480.8 857.6L478 854.8Z" fill="none" stroke="#000" stroke-width="1.5"/>
<circle cx="72" cy="1046" r="3.15" fill="none" stroke="#000" stroke-width="1.6"/>
<circle cx="207.6" cy="975.6" r="3.15" fill="none" stroke="#000" stroke-width="1.6"/>
<circle cx="228" cy="932.4" r="3.15" fill="none" stroke="#000" stroke-width="1.6"/>
<circle cx="246.25" cy="880" r="3.15" fill="none" stroke="#000" stroke-width="1.6"/>
<circle cx="266.25" cy="838.75" r="3.15" fill="none" stroke="#000" stroke-width="1.6"/>
<circle cx="285.5" cy="816.25" r="3.15" fill="none" stroke="#000" stroke-width="1.6"/>
<circle cx="305" cy="803.75" r="3.15" fill="none" stroke="#000" stroke-width="1.6"/>
<circle cx="324.5" cy="799.5" r="3.15" fill="none" stroke="#000" stroke-width="1.6"/>
<circle cx="345" cy="795" r="3.15" fill="none" stroke="#000" stroke-width="1.6"/>
<circle cx="363.75" cy="794.25" r="3.15" fill="none" stroke="#000" stroke-width="1.6"/>
<circle cx="383.75" cy="792.5" r="3.15" fill="none" stroke="#000" stroke-width="1.6"/>
<circle cx="403" cy="792.5" r="3.15" fill="none" stroke="#000" stroke-width="1.6"/>
<circle cx="423.6" cy="790.1" r="3.15" fill="none" stroke="#000" stroke-width="1.6"/>
<circle cx="443.3" cy="790.9" r="3.15" fill="none" stroke="#000" stroke-width="1.6"/>
<circle cx="462.2" cy="788.6" r="3.15" fill="none" stroke="#000" stroke-width="1.6"/>
<path d="M681.6 766.6V1048.6M675.6 1042.6H1101.5M675.6 1042.6H681.6M675.6 1015H681.6M675.6 987.4H681.6M675.6 959.8H681.6M675.6 932.2H681.6M675.6 904.6H681.6M675.6 877H681.6M675.6 849.4H681.6M675.6 821.8H681.6M675.6 794.2H681.6M675.6 766.6H681.6M681.6 1042.6V1048.6M765.58 1042.6V1048.6M849.56 1042.6V1048.6M933.54 1042.6V1048.6M1017.52 1042.6V1048.6M1101.5 1042.6V1048.6" stroke="#2a2a2a" stroke-width="1.9" fill="none"/>
<text x="664.6" y="1048.5" font-size="19" class="r" text-anchor="end">0</text>
<text x="664.6" y="1020.9" font-size="19" class="r" text-anchor="end">0.0001</text>
<text x="664.6" y="993.3" font-size="19" class="r" text-anchor="end">0.0002</text>
<text x="664.6" y="965.7" font-size="19" class="r" text-anchor="end">0.0003</text>
<text x="664.6" y="938.1" font-size="19" class="r" text-anchor="end">0.0004</text>
<text x="664.6" y="910.5" font-size="19" class="r" text-anchor="end">0.0005</text>
<text x="664.6" y="882.9" font-size="19" class="r" text-anchor="end">0.0006</text>
<text x="664.6" y="855.3" font-size="19" class="r" text-anchor="end">0.0007</text>
<text x="664.6" y="827.7" font-size="19" class="r" text-anchor="end">0.0008</text>
<text x="664.6" y="800.1" font-size="19" class="r" text-anchor="end">0.0009</text>
<text x="664.6" y="772.5" font-size="19" class="r" text-anchor="end">0.001</text>
<text x="681.6" y="1071.6" font-size="19" class="r" text-anchor="middle">0.0</text>
<text x="765.58" y="1071.6" font-size="19" class="r" text-anchor="middle">2.0</text>
<text x="849.56" y="1071.6" font-size="19" class="r" text-anchor="middle">4.0</text>
<text x="933.54" y="1071.6" font-size="19" class="r" text-anchor="middle">6.0</text>
<text x="1017.52" y="1071.6" font-size="19" class="r" text-anchor="middle">8.0</text>
<text x="1101.5" y="1071.6" font-size="19" class="r" text-anchor="middle">10.0</text>
<text x="688.3" y="775" font-size="21.5" font-weight="bold" textLength="22" lengthAdjust="spacing">(f)</text>
<text x="769.5" y="779.3" font-size="23" font-weight="bold" textLength="232.9" lengthAdjust="spacing">Ionic strength = 50 mM</text>
<text x="880" y="1096" font-size="21.5" font-weight="bold" textLength="58.7" lengthAdjust="spacing"><tspan font-style="italic">z</tspan> (cm)</text>
<text x="590.4" y="953" font-size="21.5" font-weight="bold" textLength="98" lengthAdjust="spacing" transform="rotate(-90 590.4 953)"><tspan font-style="italic">s</tspan> (mg/mg)</text>
<path d="M702.6 873.6L703.13 875.57L703.67 877.51L704.23 879.42L704.8 881.31L705.39 883.18L705.99 885.03L706.6 886.85L707.24 888.65L707.88 890.43L708.55 892.19L709.23 893.93L709.93 895.65L710.64 897.35L711.38 899.03L712.13 900.7L712.9 902.34L713.69 903.97L714.51 905.58L715.34 907.18L716.19 908.76L717.06 910.32L717.96 911.87L718.88 913.4L719.82 914.91L720.79 916.42L721.78 917.91L722.8 919.38L723.84 920.84L724.9 922.29L726 923.71L727.12 925.12L728.27 926.51L729.45 927.89L730.66 929.25L731.9 930.59L733.17 931.92L734.48 933.24L735.81 934.54L737.18 935.83L738.59 937.1L740.03 938.36L741.51 939.62L743.02 940.85L744.57 942.08L746.17 943.3L747.8 944.5L749.47 945.7L751.19 946.88L752.95 948.06L754.75 949.22L756.6 950.38L758.49 951.52L760.44 952.66L762.43 953.79L764.47 954.91L766.57 956.02L768.72 957.12L770.92 958.22L773.18 959.31L775.49 960.38L777.87 961.45L780.3 962.51L782.79 963.57L785.35 964.61L787.98 965.65L790.66 966.68L793.42 967.71L796.25 968.73L799.15 969.74L802.12 970.74L805.16 971.73L808.29 972.72L811.49 973.72L814.77 974.71L818.14 975.71L821.59 976.7L825.13 977.68L828.76 978.65L832.48 979.61L836.29 980.55L840.2 981.47L844.21 982.37L848.32 983.25L852.54 984.09L856.86 984.9L861.29 985.69L865.83 986.46L870.49 987.22L875.26 987.98L880.16 988.74L885.18 989.52L890.32 990.31L895.6 991.12L901.01 991.93L906.56 992.75L912.24 993.56L918.07 994.37L924.05 995.19L930.18 996L936.46 996.81L942.91 997.61L949.51 998.41L956.28 999.2L963.23 1000.01L970.35 1000.82L977.65 1001.63L985.13 1002.44L992.8 1003.23L1000.67 1004L1008.73 1004.74L1017 1005.46L1025.48 1006.14L1034.18 1006.8L1043.09 1007.44L1052.23 1008.06L1061.6 1008.67L1071.2 1009.27L1081.05 1009.85L1091.15 1010.43L1101.5 1011" stroke="#000" stroke-width="3.0" fill="none" stroke-linecap="round" stroke-linejoin="round" stroke-dasharray="9 12.8"/>
<path d="M702.6 789.6L703.13 792.5L703.67 795.37L704.23 798.21L704.8 801.01L705.39 803.78L705.99 806.52L706.6 809.22L707.24 811.89L707.88 814.54L708.55 817.15L709.23 819.73L709.93 822.28L710.64 824.81L711.38 827.3L712.13 829.77L712.9 832.21L713.69 834.62L714.51 837.01L715.34 839.37L716.19 841.71L717.06 844.01L717.96 846.3L718.88 848.56L719.82 850.79L720.79 853.01L721.78 855.19L722.8 857.36L723.84 859.5L724.9 861.6L726 863.65L727.12 865.65L728.27 867.62L729.45 869.55L730.66 871.45L731.9 873.32L733.17 875.16L734.48 876.98L735.81 878.79L737.18 880.57L738.59 882.35L740.03 884.11L741.51 885.87L743.02 887.62L744.57 889.37L746.17 891.12L747.8 892.87L749.47 894.62L751.19 896.38L752.95 898.15L754.75 899.93L756.6 901.72L758.49 903.52L760.44 905.34L762.43 907.17L764.47 909.01L766.57 910.88L768.72 912.8L770.92 914.76L773.18 916.76L775.49 918.77L777.87 920.8L780.3 922.83L782.79 924.85L785.35 926.85L787.98 928.83L790.66 930.77L793.42 932.68L796.25 934.53L799.15 936.33L802.12 938.07L805.16 939.75L808.29 941.36L811.49 942.91L814.77 944.4L818.14 945.85L821.59 947.26L825.13 948.64L828.76 950L832.48 951.34L836.29 952.66L840.2 953.98L844.21 955.29L848.32 956.61L852.54 957.93L856.86 959.25L861.29 960.57L865.83 961.89L870.49 963.18L875.26 964.46L880.16 965.71L885.18 966.93L890.32 968.13L895.6 969.28L901.01 970.38L906.56 971.45L912.24 972.49L918.07 973.51L924.05 974.53L930.18 975.55L936.46 976.58L942.91 977.62L949.51 978.69L956.28 979.78L963.23 980.9L970.35 982.03L977.65 983.17L985.13 984.32L992.8 985.48L1000.67 986.63L1008.73 987.78L1017 988.93L1025.48 990.08L1034.18 991.24L1043.09 992.4L1052.23 993.56L1061.6 994.7L1071.2 995.82L1081.05 996.91L1091.15 997.97L1101.5 999" stroke="#000" stroke-width="3.0" fill="none" stroke-linecap="round" stroke-linejoin="round" stroke-dasharray="0.1 6.1"/>
<path d="M702.6 1018.3L703.13 1018.55L703.67 1018.8L704.23 1019.05L704.8 1019.29L705.39 1019.53L705.99 1019.76L706.6 1020L707.24 1020.23L707.88 1020.46L708.55 1020.69L709.23 1020.91L709.93 1021.13L710.64 1021.35L711.38 1021.57L712.13 1021.79L712.9 1022L713.69 1022.22L714.51 1022.43L715.34 1022.64L716.19 1022.84L717.06 1023.05L717.96 1023.25L718.88 1023.46L719.82 1023.66L720.79 1023.86L721.78 1024.05L722.8 1024.25L723.84 1024.45L724.9 1024.64L726 1024.84L727.12 1025.03L728.27 1025.22L729.45 1025.42L730.66 1025.61L731.9 1025.8L733.17 1025.99L734.48 1026.18L735.81 1026.36L737.18 1026.55L738.59 1026.73L740.03 1026.91L741.51 1027.09L743.02 1027.26L744.57 1027.43L746.17 1027.6L747.8 1027.77L749.47 1027.93L751.19 1028.1L752.95 1028.25L754.75 1028.41L756.6 1028.56L758.49 1028.71L760.44 1028.85L762.43 1028.99L764.47 1029.13L766.57 1029.26L768.72 1029.39L770.92 1029.52L773.18 1029.64L775.49 1029.76L777.87 1029.87L780.3 1029.98L782.79 1030.09L785.35 1030.2L787.98 1030.31L790.66 1030.41L793.42 1030.51L796.25 1030.62L799.15 1030.72L802.12 1030.82L805.16 1030.92L808.29 1031.02L811.49 1031.12L814.77 1031.23L818.14 1031.32L821.59 1031.42L825.13 1031.52L828.76 1031.62L832.48 1031.71L836.29 1031.81L840.2 1031.9L844.21 1031.99L848.32 1032.07L852.54 1032.16L856.86 1032.24L861.29 1032.32L865.83 1032.4L870.49 1032.48L875.26 1032.55L880.16 1032.63L885.18 1032.71L890.32 1032.78L895.6 1032.86L901.01 1032.93L906.56 1033.01L912.24 1033.08L918.07 1033.16L924.05 1033.23L930.18 1033.31L936.46 1033.39L942.91 1033.46L949.51 1033.54L956.28 1033.62L963.23 1033.7L970.35 1033.79L977.65 1033.87L985.13 1033.96L992.8 1034.04L1000.67 1034.13L1008.73 1034.21L1017 1034.29L1025.48 1034.38L1034.18 1034.46L1043.09 1034.54L1052.23 1034.62L1061.6 1034.69L1071.2 1034.77L1081.05 1034.85L1091.15 1034.92L1101.5 1035" stroke="#000" stroke-width="3.0" fill="none" stroke-linecap="round" stroke-linejoin="round" />
<rect x="698.15" y="943.85" width="6.3" height="6.3" fill="none" stroke="#000" stroke-width="1.5"/>
<rect x="719.74" y="974.05" width="6.3" height="6.3" fill="none" stroke="#000" stroke-width="1.5"/>
<rect x="762.43" y="976.85" width="6.3" height="6.3" fill="none" stroke="#000" stroke-width="1.5"/>
<rect x="804.42" y="991.45" width="6.3" height="6.3" fill="none" stroke="#000" stroke-width="1.5"/>
<rect x="847.21" y="997.35" width="6.3" height="6.3" fill="none" stroke="#000" stroke-width="1.5"/>
<rect x="888.4" y="1003.35" width="6.3" height="6.3" fill="none" stroke="#000" stroke-width="1.5"/>
<rect x="951.39" y="1008.45" width="6.3" height="6.3" fill="none" stroke="#000" stroke-width="1.5"/>
<rect x="1014.37" y="1009.85" width="6.3" height="6.3" fill="none" stroke="#000" stroke-width="1.5"/>
<path d="M701.3 915.6L704.1 918.4L701.3 921.2L698.5 918.4Z" fill="none" stroke="#000" stroke-width="1.5"/>
<path d="M722.89 936.8L725.69 939.6L722.89 942.4L720.09 939.6Z" fill="none" stroke="#000" stroke-width="1.5"/>
<path d="M765.58 951.6L768.38 954.4L765.58 957.2L762.78 954.4Z" fill="none" stroke="#000" stroke-width="1.5"/>
<path d="M807.57 977.8L810.37 980.6L807.57 983.4L804.77 980.6Z" fill="none" stroke="#000" stroke-width="1.5"/>
<path d="M850.36 987.8L853.16 990.6L850.36 993.4L847.56 990.6Z" fill="none" stroke="#000" stroke-width="1.5"/>
<path d="M891.55 989L894.35 991.8L891.55 994.6L888.75 991.8Z" fill="none" stroke="#000" stroke-width="1.5"/>
<path d="M954.54 1004.2L957.34 1007L954.54 1009.8L951.74 1007Z" fill="none" stroke="#000" stroke-width="1.5"/>
<path d="M1017.52 1003.8L1020.32 1006.6L1017.52 1009.4L1014.72 1006.6Z" fill="none" stroke="#000" stroke-width="1.5"/>
<circle cx="701.3" cy="1040.75" r="3.15" fill="none" stroke="#000" stroke-width="1.6"/>
<circle cx="722.89" cy="1040" r="3.15" fill="none" stroke="#000" stroke-width="1.6"/>
<circle cx="765.58" cy="1041.5" r="3.15" fill="none" stroke="#000" stroke-width="1.6"/>
<circle cx="807.57" cy="1041.5" r="3.15" fill="none" stroke="#000" stroke-width="1.6"/>
<circle cx="850.36" cy="1041.5" r="3.15" fill="none" stroke="#000" stroke-width="1.6"/>
<circle cx="891.55" cy="1042" r="3.15" fill="none" stroke="#000" stroke-width="1.6"/>
<circle cx="954.54" cy="1040.6" r="3.15" fill="none" stroke="#000" stroke-width="1.6"/>
<circle cx="1017.52" cy="1042.4" r="3.15" fill="none" stroke="#000" stroke-width="1.6"/>
<circle cx="1013" cy="792.8" r="3.15" fill="none" stroke="#000" stroke-width="1.6"/>
<text x="1038.9" y="799" font-size="19" class="r" textLength="146.76" lengthAdjust="spacing">82 mg/L_observed</text>
<path d="M993.1 818.7H1032.5" stroke="#000" stroke-width="3" stroke-linecap="round" fill="none"/>
<text x="1038.9" y="824.9" font-size="19" class="r" textLength="148.93" lengthAdjust="spacing">82 mg/L_modelled</text>
<rect x="1009.85" y="841.45" width="6.3" height="6.3" fill="none" stroke="#000" stroke-width="1.5"/>
<text x="1038.9" y="850.8" font-size="19" class="r" textLength="156.51" lengthAdjust="spacing">290 mg/L_observed</text>
<path d="M993.1 870.5h8.6M1014.6 870.5h8.6" stroke="#000" stroke-width="3" stroke-linecap="round" fill="none"/>
<text x="1038.9" y="876.7" font-size="19" class="r" textLength="158.68" lengthAdjust="spacing">290 mg/L_modelled</text>
<path d="M1013 893.6L1015.8 896.4L1013 899.2L1010.2 896.4Z" fill="none" stroke="#000" stroke-width="1.5"/>
<text x="1038.9" y="902.6" font-size="19" class="r" textLength="156.51" lengthAdjust="spacing">430 mg/L_observed</text>
<path d="M993.1 922.3h0.1M999 922.3h0.1M1004.9 922.3h0.1M1010.8 922.3h0.1M1016.7 922.3h0.1M1022.6 922.3h0.1M1028.5 922.3h0.1" stroke="#000" stroke-width="3" stroke-linecap="round" fill="none"/>
<text x="1038.9" y="928.5" font-size="19" class="r" textLength="158.68" lengthAdjust="spacing">430 mg/L_modelled</text>
</svg>
</body></html>
